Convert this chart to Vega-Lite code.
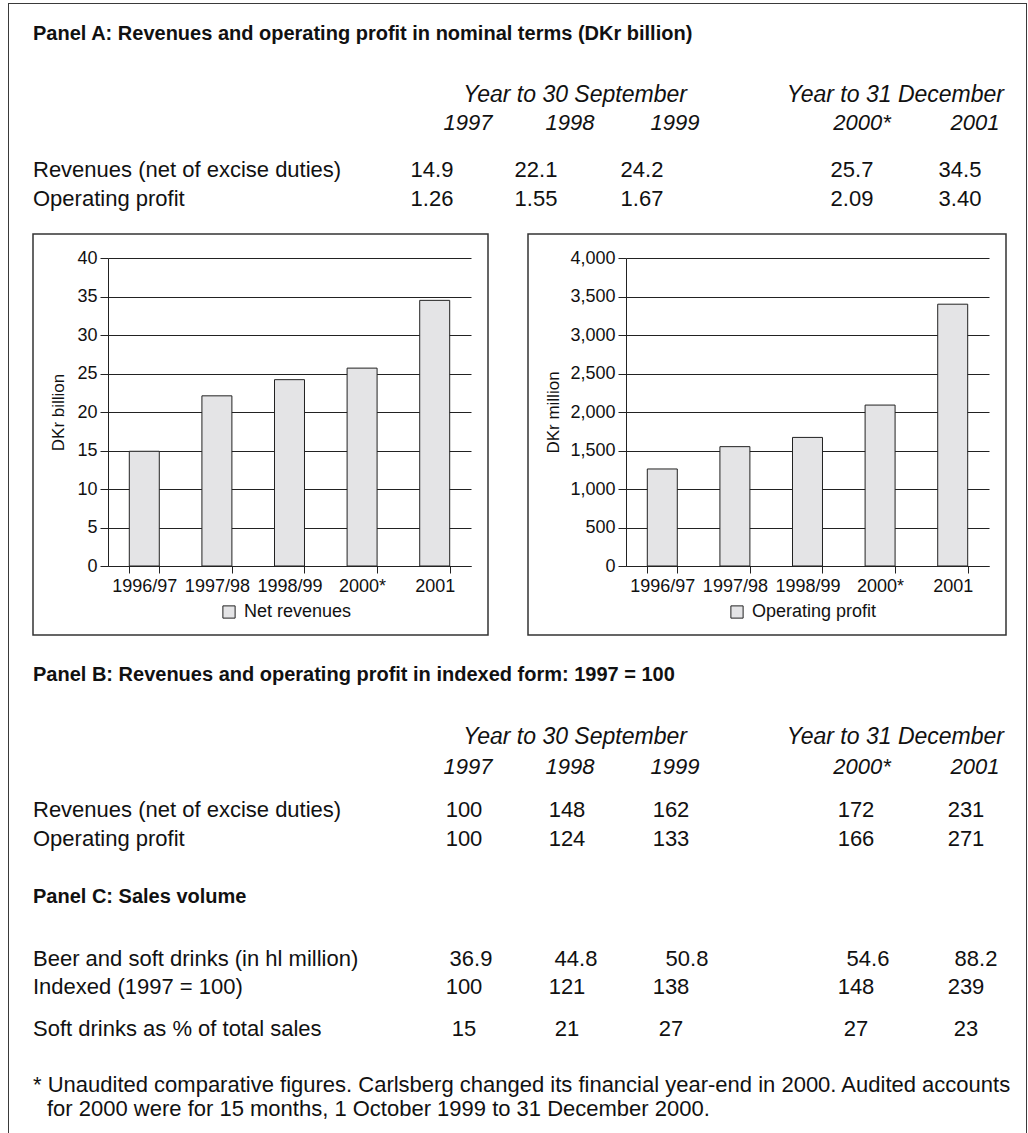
{
  "$schema": "https://vega.github.io/schema/vega-lite/v6.json",
  "padding": {"left": 8, "top": 3, "right": 0, "bottom": 0},
  "background": "white",
  "config": {
    "font": "Liberation Sans",
    "view": {"stroke": null},
    "text": {"font": "Liberation Sans", "fontSize": 22, "color": "#111"}
  },
  "datasets": {
    "tableA": [
      {"kind": "title", "row": 0, "col": 0, "text": "Panel A: Revenues and operating profit in nominal terms (DKr billion)"},
      {"kind": "groupC", "row": 1, "col": 2, "text": "Year to 30 September"},
      {"kind": "groupR", "row": 1, "col": 5, "text": "Year to 31 December"},
      {"kind": "year", "row": 2, "col": 1, "text": "1997"},
      {"kind": "year", "row": 2, "col": 2, "text": "1998"},
      {"kind": "year", "row": 2, "col": 3, "text": "1999"},
      {"kind": "year", "row": 2, "col": 4, "text": "2000*"},
      {"kind": "year", "row": 2, "col": 5, "text": "2001"},
      {"kind": "label", "row": 3, "col": 0, "text": "Revenues (net of excise duties)"},
      {"kind": "value", "row": 3, "col": 1, "text": "14.9"},
      {"kind": "value", "row": 3, "col": 2, "text": "22.1"},
      {"kind": "value", "row": 3, "col": 3, "text": "24.2"},
      {"kind": "value", "row": 3, "col": 4, "text": "25.7"},
      {"kind": "value", "row": 3, "col": 5, "text": "34.5"},
      {"kind": "label", "row": 4, "col": 0, "text": "Operating profit"},
      {"kind": "value", "row": 4, "col": 1, "text": "1.26"},
      {"kind": "value", "row": 4, "col": 2, "text": "1.55"},
      {"kind": "value", "row": 4, "col": 3, "text": "1.67"},
      {"kind": "value", "row": 4, "col": 4, "text": "2.09"},
      {"kind": "value", "row": 4, "col": 5, "text": "3.40"}
    ],
    "tableBC": [
      {"kind": "title", "row": 0, "col": 0, "text": "Panel B: Revenues and operating profit in indexed form: 1997 = 100"},
      {"kind": "groupC", "row": 1, "col": 2, "text": "Year to 30 September"},
      {"kind": "groupR", "row": 1, "col": 5, "text": "Year to 31 December"},
      {"kind": "year", "row": 2, "col": 1, "text": "1997"},
      {"kind": "year", "row": 2, "col": 2, "text": "1998"},
      {"kind": "year", "row": 2, "col": 3, "text": "1999"},
      {"kind": "year", "row": 2, "col": 4, "text": "2000*"},
      {"kind": "year", "row": 2, "col": 5, "text": "2001"},
      {"kind": "label", "row": 3, "col": 0, "text": "Revenues (net of excise duties)"},
      {"kind": "value", "row": 3, "col": 1, "text": "100"},
      {"kind": "value", "row": 3, "col": 2, "text": "148"},
      {"kind": "value", "row": 3, "col": 3, "text": "162"},
      {"kind": "value", "row": 3, "col": 4, "text": "172"},
      {"kind": "value", "row": 3, "col": 5, "text": "231"},
      {"kind": "label", "row": 4, "col": 0, "text": "Operating profit"},
      {"kind": "value", "row": 4, "col": 1, "text": "100"},
      {"kind": "value", "row": 4, "col": 2, "text": "124"},
      {"kind": "value", "row": 4, "col": 3, "text": "133"},
      {"kind": "value", "row": 4, "col": 4, "text": "166"},
      {"kind": "value", "row": 4, "col": 5, "text": "271"},
      {"kind": "title", "row": 5, "col": 0, "text": "Panel C: Sales volume"},
      {"kind": "label", "row": 6, "col": 0, "text": "Beer and soft drinks (in hl million)"},
      {"kind": "valueR", "row": 6, "col": 1, "text": "36.9"},
      {"kind": "valueR", "row": 6, "col": 2, "text": "44.8"},
      {"kind": "valueR", "row": 6, "col": 3, "text": "50.8"},
      {"kind": "valueR", "row": 6, "col": 4, "text": "54.6"},
      {"kind": "valueR", "row": 6, "col": 5, "text": "88.2"},
      {"kind": "label", "row": 7, "col": 0, "text": "Indexed (1997 = 100)"},
      {"kind": "value", "row": 7, "col": 1, "text": "100"},
      {"kind": "value", "row": 7, "col": 2, "text": "121"},
      {"kind": "value", "row": 7, "col": 3, "text": "138"},
      {"kind": "value", "row": 7, "col": 4, "text": "148"},
      {"kind": "value", "row": 7, "col": 5, "text": "239"},
      {"kind": "label", "row": 8, "col": 0, "text": "Soft drinks as % of total sales"},
      {"kind": "value", "row": 8, "col": 1, "text": "15"},
      {"kind": "value", "row": 8, "col": 2, "text": "21"},
      {"kind": "value", "row": 8, "col": 3, "text": "27"},
      {"kind": "value", "row": 8, "col": 4, "text": "27"},
      {"kind": "value", "row": 8, "col": 5, "text": "23"},
      {"kind": "foot", "row": 9, "col": 0, "text": "* Unaudited comparative figures. Carlsberg changed its financial year-end in 2000. Audited accounts"},
      {"kind": "foot2", "row": 10, "col": 0, "text": "for 2000 were for 15 months, 1 October 1999 to 31 December 2000."}
    ],
    "revenues": [
      {"period": "1996/97", "value": 14.9, "series": "Net revenues"},
      {"period": "1997/98", "value": 22.1, "series": "Net revenues"},
      {"period": "1998/99", "value": 24.2, "series": "Net revenues"},
      {"period": "2000*", "value": 25.7, "series": "Net revenues"},
      {"period": "2001", "value": 34.5, "series": "Net revenues"}
    ],
    "profit": [
      {"period": "1996/97", "value": 1260, "series": "Operating profit"},
      {"period": "1997/98", "value": 1550, "series": "Operating profit"},
      {"period": "1998/99", "value": 1670, "series": "Operating profit"},
      {"period": "2000*", "value": 2090, "series": "Operating profit"},
      {"period": "2001", "value": 3400, "series": "Operating profit"}
    ]
  },
  "spacing": 0,
  "hconcat": [
    {
      "width": 1, "height": 1140,
      "data": {"values": []},
      "mark": "point",
      "view": {"fill": "#3a3a3a", "stroke": null}
    },
    {
      "spacing": 0,
      "vconcat": [
        {
          "width": 1017, "height": 1,
          "data": {"values": []},
          "mark": "point",
          "view": {"fill": "#3a3a3a", "stroke": null}
        },
        {
          "width": 1017, "height": 229,
          "data": {"name": "tableA"},
          "encoding": {
            "x": {"field": "col", "type": "quantitative", "axis": null,
                  "scale": {"domain": [0, 1, 2, 3, 4, 5], "range": [24, 459, 561, 666, 853, 966], "nice": false, "zero": false}},
            "y": {"field": "row", "type": "quantitative", "axis": null,
                  "scale": {"domain": [0, 1, 2, 3, 4], "range": [30, 91, 119, 166, 195], "nice": false, "zero": false}},
            "text": {"field": "text"}
          },
          "resolve": {"scale": {"x": "independent"}},
          "layer": [
            {"transform": [{"filter": "datum.kind == 'title'"}], "mark": {"type": "text", "align": "left", "baseline": "middle", "fontWeight": "bold", "fontSize": 20}},
            {"transform": [{"filter": "datum.kind == 'groupC'"}], "mark": {"type": "text", "align": "center", "baseline": "middle", "fontStyle": "italic", "fontSize": 23, "dx": 5}},
            {"transform": [{"filter": "datum.kind == 'groupR'"}], "mark": {"type": "text", "align": "right", "baseline": "middle", "fontStyle": "italic", "fontSize": 23, "dx": 29}},
            {"transform": [{"filter": "datum.kind == 'year'"}], "mark": {"type": "text", "align": "center", "baseline": "middle", "fontStyle": "italic"}},
            {"transform": [{"filter": "datum.kind == 'label'"}], "mark": {"type": "text", "align": "left", "baseline": "middle"}},
            {"transform": [{"filter": "datum.kind == 'value'"}], "mark": {"type": "text", "align": "center", "baseline": "middle"},
             "encoding": {"x": {"field": "col", "type": "quantitative", "axis": null,
                                "scale": {"domain": [0, 1, 2, 3, 4, 5], "range": [24, 423, 527, 633, 843, 951], "nice": false, "zero": false}}}}
          ]
        },
        {
          "spacing": 22,
          "hconcat": [
            {
              "width": 1, "height": 401,
              "data": {"values": []},
              "mark": "point"
            },
            {
              "spacing": 38,
              "resolve": {"scale": {"color": "independent"}, "legend": {"color": "independent"}},
              "hconcat": [
                {
                  "width": 455, "height": 401,
                  "view": {"stroke": "#333", "strokeWidth": 1.5},
                  "data": {"name": "revenues"},
                  "mark": {"type": "bar", "stroke": "#222", "strokeWidth": 1},
                  "encoding": {
                    "x": {"field": "period", "type": "nominal", "sort": null,
                          "scale": {"range": [75, 438], "paddingInner": 0.587, "paddingOuter": 0.2935},
                          "axis": {"title": null, "orient": "bottom", "offset": -69, "tickBand": "extent", "labelAngle": 0,
                                   "labelFontSize": 18, "labelPadding": 4, "tickSize": 7, "domainColor": "#222", "tickColor": "#222", "labelColor": "#111"}},
                    "y": {"field": "value", "type": "quantitative",
                          "scale": {"domain": [0, 40], "range": [332, 24], "nice": false},
                          "axis": {"title": "DKr billion", "orient": "left", "offset": -75, "values": [0, 5, 10, 15, 20, 25, 30, 35, 40],
                                   "grid": true, "gridColor": "#222", "gridWidth": 1, "gridOpacity": 1, "tickSize": 8, "labelPadding": 3,
                                   "labelFontSize": 18, "labelColor": "#111", "domainColor": "#222", "tickColor": "#222",
                                   "titleFontSize": 17, "titleFontWeight": "normal", "titleColor": "#111",
                                   "titleX": -50, "titleY": 178, "titleAngle": 270, "titleAlign": "center", "titleBaseline": "middle"}},
                    "color": {"field": "series", "type": "nominal", "scale": {"range": ["#e4e4e6"]},
                              "legend": {"orient": "none", "legendX": 187, "legendY": 369, "title": null, "symbolType": "square",
                                         "symbolSize": 150, "symbolStrokeColor": "#222", "symbolStrokeWidth": 1, "labelFontSize": 18,
                                         "labelColor": "#111", "padding": 0, "labelOffset": 6}}
                  }
                },
                {
                  "width": 478, "height": 401,
                  "view": {"stroke": "#333", "strokeWidth": 1.5},
                  "data": {"name": "profit"},
                  "mark": {"type": "bar", "stroke": "#222", "strokeWidth": 1},
                  "encoding": {
                    "x": {"field": "period", "type": "nominal", "sort": null,
                          "scale": {"range": [98, 461], "paddingInner": 0.587, "paddingOuter": 0.2935},
                          "axis": {"title": null, "orient": "bottom", "offset": -69, "tickBand": "extent", "labelAngle": 0,
                                   "labelFontSize": 18, "labelPadding": 4, "tickSize": 7, "domainColor": "#222", "tickColor": "#222", "labelColor": "#111"}},
                    "y": {"field": "value", "type": "quantitative",
                          "scale": {"domain": [0, 4000], "range": [332, 24], "nice": false},
                          "axis": {"title": "DKr million", "orient": "left", "offset": -98, "format": ",.0f", "values": [0, 500, 1000, 1500, 2000, 2500, 3000, 3500, 4000],
                                   "grid": true, "gridColor": "#222", "gridWidth": 1, "gridOpacity": 1, "tickSize": 8, "labelPadding": 3,
                                   "labelFontSize": 18, "labelColor": "#111", "domainColor": "#222", "tickColor": "#222",
                                   "titleFontSize": 17, "titleFontWeight": "normal", "titleColor": "#111",
                                   "titleX": -73, "titleY": 178, "titleAngle": 270, "titleAlign": "center", "titleBaseline": "middle"}},
                    "color": {"field": "series", "type": "nominal", "scale": {"range": ["#e4e4e6"]},
                              "legend": {"orient": "none", "legendX": 200, "legendY": 369, "title": null, "symbolType": "square",
                                         "symbolSize": 150, "symbolStrokeColor": "#222", "symbolStrokeWidth": 1, "labelFontSize": 18,
                                         "labelColor": "#111", "padding": 0, "labelOffset": 6}}
                  }
                }
              ]
            }
          ]
        },
        {
          "width": 1017, "height": 500,
          "data": {"name": "tableBC"},
          "encoding": {
            "x": {"field": "col", "type": "quantitative", "axis": null,
                  "scale": {"domain": [0, 1, 2, 3, 4, 5], "range": [24, 459, 561, 666, 853, 966], "nice": false, "zero": false}},
            "y": {"field": "row", "type": "quantitative", "axis": null,
                  "scale": {"domain": [0, 1, 2, 3, 4, 5, 6, 7, 8, 9, 10], "range": [39, 101, 131, 174, 203, 261, 323, 351, 393, 449, 473], "nice": false, "zero": false}},
            "text": {"field": "text"}
          },
          "resolve": {"scale": {"x": "independent"}},
          "layer": [
            {"transform": [{"filter": "datum.kind == 'title'"}], "mark": {"type": "text", "align": "left", "baseline": "middle", "fontWeight": "bold", "fontSize": 20}},
            {"transform": [{"filter": "datum.kind == 'groupC'"}], "mark": {"type": "text", "align": "center", "baseline": "middle", "fontStyle": "italic", "fontSize": 23, "dx": 5}},
            {"transform": [{"filter": "datum.kind == 'groupR'"}], "mark": {"type": "text", "align": "right", "baseline": "middle", "fontStyle": "italic", "fontSize": 23, "dx": 29}},
            {"transform": [{"filter": "datum.kind == 'year'"}], "mark": {"type": "text", "align": "center", "baseline": "middle", "fontStyle": "italic"}},
            {"transform": [{"filter": "datum.kind == 'label'"}], "mark": {"type": "text", "align": "left", "baseline": "middle"}},
            {"transform": [{"filter": "datum.kind == 'value'"}], "mark": {"type": "text", "align": "center", "baseline": "middle"},
             "encoding": {"x": {"field": "col", "type": "quantitative", "axis": null,
                                "scale": {"domain": [0, 1, 2, 3, 4, 5], "range": [24, 455, 558, 662, 847, 957], "nice": false, "zero": false}}}},
            {"transform": [{"filter": "datum.kind == 'valueR'"}], "mark": {"type": "text", "align": "center", "baseline": "middle"},
             "encoding": {"x": {"field": "col", "type": "quantitative", "axis": null,
                                "scale": {"domain": [0, 1, 2, 3, 4, 5], "range": [24, 462, 567, 678, 859, 967], "nice": false, "zero": false}}}},
            {"transform": [{"filter": "datum.kind == 'foot'"}], "mark": {"type": "text", "align": "left", "baseline": "middle"}},
            {"transform": [{"filter": "datum.kind == 'foot2'"}], "mark": {"type": "text", "align": "left", "baseline": "middle", "dx": 14}}
          ]
        }
      ]
    },
    {
      "width": 1, "height": 1140,
      "data": {"values": []},
      "mark": "point",
      "view": {"fill": "#3a3a3a", "stroke": null}
    }
  ]
}
